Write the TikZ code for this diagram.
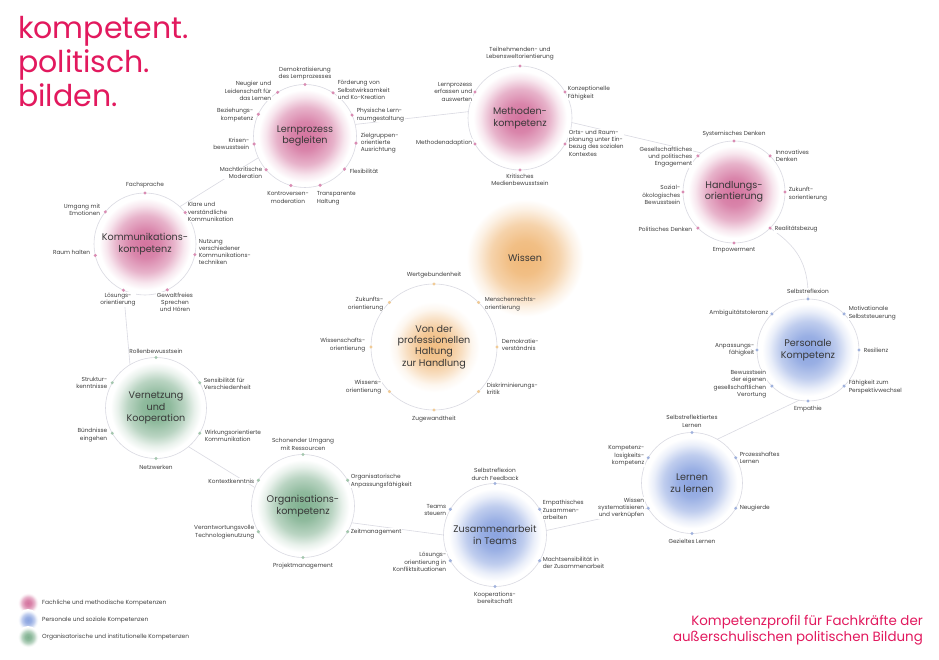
\documentclass[tikz,border=0pt]{standalone}
\usepackage{fontspec}
\setmainfont{Poppins}
\definecolor{pinkc}{HTML}{D4749F}
\definecolor{bluec}{HTML}{8BA4E0}
\definecolor{greenc}{HTML}{80B190}
\definecolor{orangec}{HTML}{F0B878}
\definecolor{pdotc}{HTML}{D98CB3}
\definecolor{bdotc}{HTML}{9FB1DC}
\definecolor{gdotc}{HTML}{A3C6AD}
\definecolor{odotc}{HTML}{F1CB96}
\definecolor{ringc}{HTML}{DADAE2}
\definecolor{labc}{HTML}{404040}
\definecolor{hubc}{HTML}{383838}
\definecolor{titlec}{HTML}{E2195E}
\pgfdeclareradialshading{pinkglow}{\pgfpoint{0bp}{0bp}}{color(0bp)=(pinkc); color(7bp)=(pinkc!88!white); color(14bp)=(pinkc!55!white); color(19bp)=(pinkc!18!white); color(22.5bp)=(white); color(50bp)=(white)}
\pgfdeclareradialshading{blueglow}{\pgfpoint{0bp}{0bp}}{color(0bp)=(bluec); color(7bp)=(bluec!88!white); color(14bp)=(bluec!55!white); color(19bp)=(bluec!18!white); color(22.5bp)=(white); color(50bp)=(white)}
\pgfdeclareradialshading{greenglow}{\pgfpoint{0bp}{0bp}}{color(0bp)=(greenc); color(7bp)=(greenc!88!white); color(14bp)=(greenc!55!white); color(19bp)=(greenc!18!white); color(22.5bp)=(white); color(50bp)=(white)}
\pgfdeclareradialshading{orangeglow}{\pgfpoint{0bp}{0bp}}{color(0bp)=(orangec); color(7bp)=(orangec!90!white); color(14bp)=(orangec!62!white); color(20bp)=(orangec!20!white); color(24bp)=(white); color(50bp)=(white)}
\pgfdeclareradialshading{haltglow}{\pgfpoint{0bp}{0bp}}{color(0bp)=(orangec!92!white); color(6bp)=(orangec!80!white); color(11bp)=(orangec!45!white); color(15bp)=(orangec!12!white); color(18bp)=(white); color(50bp)=(white)}
\begin{document}
\begin{tikzpicture}[x=1pt,y=-1pt,
  hub/.style={circle, draw=ringc, line width=0.6pt, inner sep=0pt, outer sep=0pt, shade, font=\fontsize{9.6}{11.4}\selectfont, text=hubc, align=center},
  conn/.style={draw=ringc, line width=0.6pt},
  lab/.style={font=\fontsize{5.8}{7.3}\selectfont, text=labc, inner sep=0.6pt, fill=white},
  labL/.style={lab, anchor=west, align=left},
  labR/.style={lab, anchor=east, align=right},
  labT/.style={lab, anchor=south, align=center},
  labB/.style={lab, anchor=north, align=center},
  pdot/.style={fill=pdotc}, bdot/.style={fill=bdotc}, gdot/.style={fill=gdotc}, odot/.style={fill=odotc},
  legtext/.style={font=\fontsize{5.9}{7}\selectfont, text=labc, anchor=west, inner sep=0pt},
  ttl/.style={anchor=base west, inner sep=0pt, font=\fontsize{30}{34}\selectfont, text=titlec},
  sub/.style={anchor=base east, inner sep=0pt, font=\fontsize{13.4}{16}\selectfont, text=titlec}
]
\useasboundingbox[fill=white] (0,0) rectangle (939,660);

% title
\node[ttl] (t1) at (18,39) {kompetent.};
\node[ttl] (t2) at (18,73) {politisch.};
\node[ttl] (t3) at (18,107) {bilden.};

% Wissen glow
\node[circle, inner sep=0pt, minimum size=122pt, shade, shading=orangeglow, font=\fontsize{9.6}{11.4}\selectfont, text=hubc] (wi) at (525,258) {Wissen};

% hubs
\node[hub, minimum size=103pt, shading=pinkglow] (lp) at (305,136) {Lernprozess\\begleiten};
\node[hub, minimum size=104pt, shading=pinkglow] (mk) at (520,118) {Methoden-\\kompetenz};
\node[hub, minimum size=102pt, shading=pinkglow] (ho) at (734,192) {Handlungs-\\orientierung};
\node[hub, minimum size=102pt, shading=pinkglow] (kk) at (145,244) {Kommunikations-\\kompetenz};
\node[hub, minimum size=126pt, shading=haltglow] (vh) at (434,347) {Von der\\professionellen\\Haltung\\zur Handlung};
\node[hub, minimum size=102pt, shading=blueglow] (pk) at (808,350) {Personale\\Kompetenz};
\node[hub, minimum size=101pt, shading=blueglow] (lz) at (692,483) {Lernen\\zu lernen};
\node[hub, minimum size=101pt, shading=greenglow] (vk) at (156,408) {Vernetzung\\und\\Kooperation};
\node[hub, minimum size=103pt, shading=greenglow] (og) at (303,506) {Organisations-\\kompetenz};
\node[hub, minimum size=103pt, shading=blueglow] (zt) at (495,535) {Zusammenarbeit\\in Teams};

% connectors
\draw[conn] (kk.47) -- (lp.-155);
\draw[conn] (lp.13) -- (mk.173);
\draw[conn] (mk.-5) -- (ho.130);
\draw[conn] (ho.-45) .. controls (795,245) and (809,262) .. (pk.90);
\draw[conn] (pk.-100) -- (lz.60);
\draw[conn] (lz.210) -- (zt.5);
\draw[conn] (zt.180) -- (og.-19);
\draw[conn] (og.159) -- (vk.-50);
\draw[conn] (vk.121) -- (kk.-115);

% dots
\foreach \a in {90,57.3,24.5,-8.2,-40.9,-73.6,-106.4,-139.1,-171.8,155.5,122.7} {\fill[pdot] (lp.\a) circle (1.7);}
\foreach \a in {90,30,-30,-90,-150,150} {\fill[pdot] (mk.\a) circle (1.7);}
\foreach \a in {90,45,0,-45,-90,-135,180,135} {\fill[pdot] (ho.\a) circle (1.7);}
\foreach \a in {90,38.6,-12.9,-64.3,-115.7,-167.1,141.4} {\fill[pdot] (kk.\a) circle (1.7);}
\foreach \a in {90,45,0,-45,-90,-135,180,135} {\fill[odot] (vh.\a) circle (1.7);}
\foreach \a in {90,45,0,-45,-90,-135,180,135} {\fill[bdot] (pk.\a) circle (1.7);}
\foreach \a in {90,30,-30,-90,-150,150} {\fill[bdot] (lz.\a) circle (1.7);}
\foreach \a in {90,30,-30,-90,-150,150} {\fill[gdot] (vk.\a) circle (1.7);}
\foreach \a in {90,30,-30,-90,-150,150} {\fill[gdot] (og.\a) circle (1.7);}
\foreach \a in {90,30,-30,-90,-150,150} {\fill[bdot] (zt.\a) circle (1.7);}

% Lernprozess labels
\node[labT] (lp1) at (305,81) {Demokratisierung\\des Lernprozesses};
\node[labL] (lp2) at (337,90) {Förderung von\\Selbstwirksamkeit\\und Ko-Kreation};
\node[labL] (lp3) at (356,115) {Physische Lern-\\raumgestaltung};
\node[labL] (lp4) at (360,143) {Zielgruppen-\\orientierte\\Ausrichtung};
\node[labL] (lp5) at (349,171) {Flexibilität};
\node[lab, anchor=north west, align=left] (lp6) at (316,191) {Transparente\\Haltung};
\node[labB] (lp7) at (288,191) {Kontroversen-\\moderation};
\node[labR] (lp8) at (263,173) {Machtkritische\\Moderation};
\node[labR] (lp9) at (250,144) {Krisen-\\bewusstsein};
\node[labR] (lp10) at (254,115) {Beziehungs-\\kompetenz};
\node[labR] (lp11) at (272,91) {Neugier und\\Leidenschaft für\\das Lernen};

% Methoden labels
\node[labT] (mk1) at (520,61) {Teilnehmenden- und\\Lebensweltorientierung};
\node[labL] (mk2) at (567,93) {Konzeptionelle\\Fähigkeit};
\node[labL] (mk3) at (568,143) {Orts- und Raum-\\planung unter Ein-\\bezug des sozialen\\Kontextes};
\node[labB] (mk4) at (520,173) {Kritisches\\Medienbewusstsein};
\node[labR] (mk5) at (473,143) {Methodenadaption};
\node[labR] (mk6) at (473,92) {Lernprozess\\erfassen und\\auswerten};

% Handlungs labels
\node[labT] (ho1) at (734,138) {Systemisches Denken};
\node[labL] (ho2) at (775,156) {Innovatives\\Denken};
\node[labL] (ho3) at (788,194) {Zukunft-\\sorientierung};
\node[labL] (ho4) at (774,229) {Realitätsbezug};
\node[labB] (ho5) at (734,247) {Empowerment};
\node[labR] (ho6) at (693,229) {Politisches Denken};
\node[labR] (ho7) at (681,195) {Sozial-\\ökologisches\\Bewusstsein};
\node[labR] (ho8) at (693,157) {Gesellschaftliches\\und politisches\\Engagement};

% Kommunikation labels
\node[labT] (kk1) at (145,189) {Fachsprache};
\node[labL] (kk2) at (187,212) {Klare und\\verständliche\\Kommunikation};
\node[labL] (kk3) at (198,252) {Nutzung\\verschiedener\\Kommunikations-\\techniken};
\node[labB] (kk4) at (175,292) {Gewaltfreies\\Sprechen\\und Hören};
\node[labB] (kk5) at (118,292) {Lösungs-\\orientierung};
\node[labR] (kk6) at (91,252) {Raum halten};
\node[labR] (kk7) at (101,210) {Umgang mit\\Emotionen};

% Haltung labels
\node[labT] (vh1) at (434,279) {Wertgebundenheit};
\node[lab, fill=none, anchor=west, align=left] (vh2) at (484,304) {Menschenrechts-\\orientierung};
\node[labL] (vh3) at (501,345) {Demokratie-\\verständnis};
\node[labL] (vh4) at (486,389) {Diskriminierungs-\\kritik};
\node[labB] (vh5) at (434,415) {Zugewandtheit};
\node[labR] (vh6) at (382,387) {Wissens-\\orientierung};
\node[labR] (vh7) at (366,345) {Wissenschafts-\\orientierung};
\node[labR] (vh8) at (384,304) {Zukunfts-\\orientierung};

% Personale labels
\node[labT] (pk1) at (808,294) {Selbstreflexion};
\node[labL] (pk2) at (848,313) {Motivationale\\Selbststeuerung};
\node[labL] (pk3) at (863,350) {Resilienz};
\node[labL] (pk4) at (848,387) {Fähigkeit zum\\Perspektivwechsel};
\node[labB] (pk5) at (808,405) {Empathie};
\node[labR] (pk6) at (767,384) {Bewusstsein\\der eigenen\\gesellschaftlichen\\Verortung};
\node[labR] (pk7) at (755,350) {Anpassungs-\\fähigkeit};
\node[labR] (pk8) at (769,313) {Ambiguitätstoleranz};

% Lernen labels
\node[labT] (lz1) at (692,428) {Selbstreflektiertes\\Lernen};
\node[labL] (lz2) at (739,458) {Prozesshaftes\\Lernen};
\node[labL] (lz3) at (739,508) {Neugierde};
\node[labB] (lz4) at (692,538) {Gezieltes Lernen};
\node[labR] (lz5) at (645,508) {Wissen\\systematisieren\\und verknüpfen};
\node[labR] (lz6) at (645,456) {Kompetenz-\\losigkeits-\\kompetenz};

% Vernetzung labels
\node[labT] (vk1) at (156,354) {Rollenbewusstsein};
\node[labL] (vk2) at (203,384) {Sensibilität für\\Verschiedenheit};
\node[labL] (vk3) at (204,436) {Wirkungsorientierte\\Kommunikation};
\node[labB] (vk4) at (156,464) {Netzwerken};
\node[labR] (vk5) at (108,435) {Bündnisse\\eingehen};
\node[labR] (vk6) at (108,383) {Struktur-\\kenntnisse};

% Organisation labels
\node[labT] (og1) at (303,451) {Schonender Umgang\\mit Ressourcen};
\node[labL] (og2) at (350,481) {Organisatorische\\Anpassungsfähigkeit};
\node[labL] (og3) at (350,532) {Zeitmanagement};
\node[labB] (og4) at (303,562) {Projektmanagement};
\node[labR] (og5) at (255,532) {Verantwortungsvolle\\Technologienutzung};
\node[labR] (og6) at (255,481) {Kontextkenntnis};

% Zusammenarbeit labels
\node[labT] (zt1) at (495,481) {Selbstreflexion\\durch Feedback};
\node[labL] (zt2) at (542,510) {Empathisches\\Zusammen-\\arbeiten};
\node[labL] (zt3) at (542,563) {Machtsensibilität in\\der Zusammenarbeit};
\node[labB] (zt4) at (495,591) {Kooperations-\\bereitschaft};
\node[labR] (zt5) at (447,562) {Lösungs-\\orientierung in\\Konfliktsituationen};
\node[labR] (zt6) at (447,510) {Teams\\steuern};

% legend
\shade[shading=pinkglow] (28,603) circle (11);
\shade[shading=blueglow] (28,620) circle (11);
\shade[shading=greenglow] (28,637) circle (11);
\node[legtext] (lg1) at (42,603) {Fachliche und methodische Kompetenzen};
\node[legtext] (lg2) at (42,620) {Personale und soziale Kompetenzen};
\node[legtext] (lg3) at (42,637) {Organisatorische und institutionelle Kompetenzen};

% subtitle
\node[sub] (s1) at (923,625) {Kompetenzprofil für Fachkräfte der};
\node[sub] (s2) at (923,641) {außerschulischen politischen Bildung};
\end{tikzpicture}
\end{document}
